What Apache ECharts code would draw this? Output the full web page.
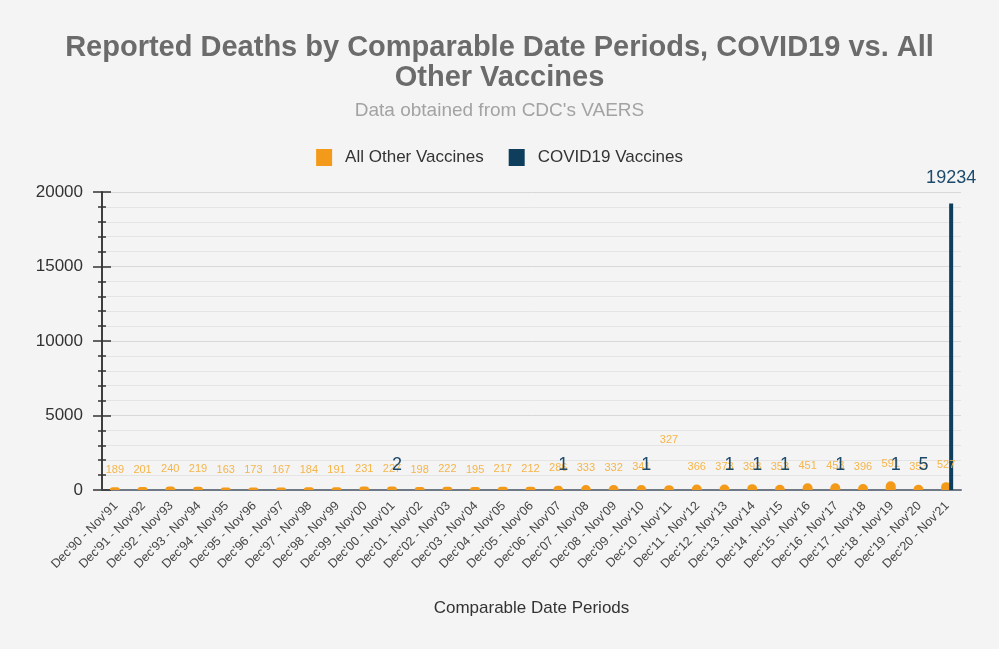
<!DOCTYPE html>
<html><head><meta charset="utf-8">
<script src="https://cdn.jsdelivr.net/npm/echarts@6/dist/echarts.min.js"></script>
<style>html,body{margin:0;padding:0;background:#f4f4f4;}#c{width:999px;height:649px;}</style>
</head><body><div id="c"></div>
<script>
var categories = ["Dec'90 - Nov'91","Dec'91 - Nov'92","Dec'92 - Nov'93","Dec'93 - Nov'94","Dec'94 - Nov'95","Dec'95 - Nov'96","Dec'96 - Nov'97","Dec'97 - Nov'98","Dec'98 - Nov'99","Dec'99 - Nov'00","Dec'00 - Nov'01","Dec'01 - Nov'02","Dec'02 - Nov'03","Dec'03 - Nov'04","Dec'04 - Nov'05","Dec'05 - Nov'06","Dec'06 - Nov'07","Dec'07 - Nov'08","Dec'08 - Nov'09","Dec'09 - Nov'10","Dec'10 - Nov'11","Dec'11 - Nov'12","Dec'12 - Nov'13","Dec'13 - Nov'14","Dec'14 - Nov'15","Dec'15 - Nov'16","Dec'16 - Nov'17","Dec'17 - Nov'18","Dec'18 - Nov'19","Dec'19 - Nov'20","Dec'20 - Nov'21"];
var otherVaccines = [189,201,240,219,163,173,167,184,191,231,227,198,222,195,217,212,286,333,332,341,327,366,373,393,353,451,453,396,591,353,527];
var covidVaccines = [0,0,0,0,0,0,0,0,0,0,2,0,0,0,0,0,1,0,0,1,0,0,1,1,1,0,1,0,1,5,19234];
var yTicks = [0,5000,10000,15000,20000];

var otherData = otherVaccines.map(function(v,i){
  var d = {value:v};
  if (i === 20) d.label = {distance: 40};
  return d;
});
var covidData = covidVaccines.map(function(v){
  return {value:v, label:{show: v>0}};
});

var yMin = yTicks[0], yMax = yTicks[yTicks.length-1], yStep = yTicks[1]-yTicks[0];
function yAxisBase(inside){
  return {
    type:'value', min:yMin, max:yMax, interval:yStep, position:'left',
    axisLine:{show:true,lineStyle:{color:'#333',width:1.5}},
    axisTick:{show:true,inside:inside,length:9,lineStyle:{color:'#333',width:1.5}},
    minorTick:{show:true,splitNumber:5,length:4,lineStyle:{color:'#333',width:1.5}}
  };
}
var yOuter = yAxisBase(false);
yOuter.splitLine = {show:true,lineStyle:{color:'#d8d8d8'}};
yOuter.minorSplitLine = {show:true,lineStyle:{color:'#e4e4e4'}};
yOuter.axisLabel = {fontFamily:'Liberation Sans',fontSize:17,color:'#333',margin:19,
  formatter:function(v){return String(v);}};
var yInner = yAxisBase(true);
yInner.splitLine = {show:false};
yInner.minorSplitLine = {show:false};
yInner.axisLabel = {show:false};

var chart = echarts.init(document.getElementById('c'));
chart.setOption({
  backgroundColor:'#f4f4f4',
  animation:false,
  title:[{
    text:"Reported Deaths by Comparable Date Periods, COVID19 vs. All\nOther Vaccines",
    left:'center', top:28,
    textStyle:{fontFamily:'Liberation Sans',fontSize:29,fontWeight:'bold',color:'#6b6b6b',lineHeight:30}
  },{
    text:"Data obtained from CDC's VAERS",
    left:'center', top:96,
    textStyle:{fontFamily:'Liberation Sans',fontSize:19,fontWeight:'normal',color:'#a3a3a3'}
  }],
  legend:{
    top:144, left:'center', itemWidth:16, itemHeight:17, itemGap:25,
    icon:'rect',
    textStyle:{fontFamily:'Liberation Sans',fontSize:17,color:'#333',padding:[0,0,0,8]},
    data:['All Other Vaccines','COVID19 Vaccines']
  },
  grid:{left:102,right:38,top:192,bottom:159,containLabel:false},
  xAxis:{
    type:'category', data:categories,
    name:'Comparable Date Periods', nameLocation:'middle', nameGap:110,
    nameTextStyle:{fontFamily:'Liberation Sans',fontSize:17,color:'#333'},
    axisLine:{lineStyle:{color:'#6f7a86',width:2}},
    axisTick:{show:false},
    axisLabel:{rotate:45,interval:0,fontFamily:'Liberation Sans',fontSize:12.5,color:'#444',margin:14}
  },
  yAxis:[yOuter, yInner],
  series:[{
    name:'All Other Vaccines', type:'bar', data:otherData, yAxisIndex:0,
    barWidth:10, barGap:'-20%',
    itemStyle:{color:'#f39a1b',borderRadius:[5,5,0,0]},
    label:{show:true,position:'top',distance:12,fontFamily:'Liberation Sans',fontSize:11,color:'#f5b54a'}
  },{
    name:'COVID19 Vaccines', type:'bar', data:covidData, yAxisIndex:0,
    barWidth:4,
    itemStyle:{color:'#0f3d5c'},
    label:{show:true,position:'top',distance:16,fontFamily:'Liberation Sans',fontSize:18,color:'#1d4a6b'}
  }]
});
</script></body></html>
